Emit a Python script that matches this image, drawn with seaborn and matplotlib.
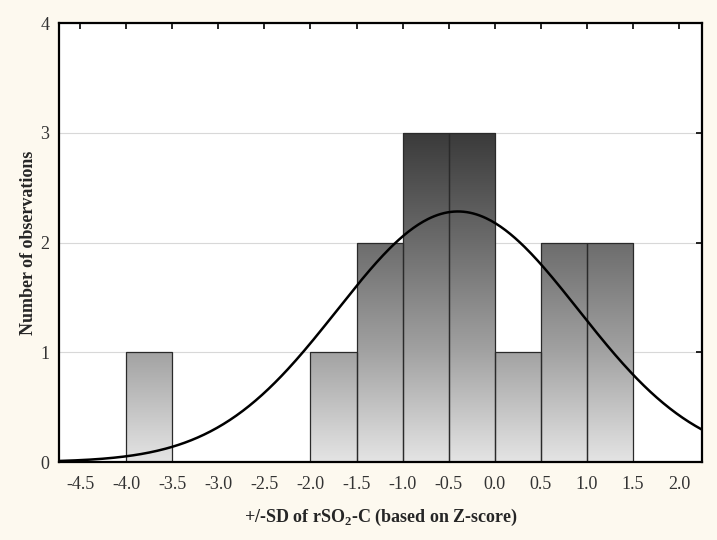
import numpy as np
import pandas as pd
import matplotlib
matplotlib.use("Agg")
import matplotlib.pyplot as plt
import seaborn as sns
from matplotlib.colors import LinearSegmentedColormap

# histogram (bin width 0.5)
bin_left = [-4.0, -3.5, -3.0, -2.5, -2.0, -1.5, -1.0, -0.5, 0.0, 0.5, 1.0]
counts = [1, 0, 0, 0, 1, 2, 3, 3, 1, 2, 2]
bin_width = 0.5
# fitted normal curve parameters (estimated)
fit_mean = -0.4
fit_sd = 1.31
n_obs = sum(counts)
x_ticks = [-4.5, -4.0, -3.5, -3.0, -2.5, -2.0, -1.5, -1.0, -0.5, 0.0, 0.5, 1.0, 1.5, 2.0]
y_ticks = [0, 1, 2, 3, 4]

sns.set_style("white")
plt.rcParams["font.family"] = ["Liberation Serif", "DejaVu Serif"]
plt.rcParams["mathtext.fontset"] = "custom"
plt.rcParams["mathtext.bf"] = "Liberation Serif:bold"
plt.rcParams["mathtext.rm"] = "Liberation Serif"

cream = "#fdf9ef"
fig = plt.figure(figsize=(7.17, 5.4), dpi=100, facecolor=cream)
ax = fig.add_axes([0.0823, 0.1444, 0.8968, 0.8126])
ax.set_facecolor("white")

df = pd.DataFrame({"x": np.array(bin_left) + bin_width / 2, "n": counts})
edges = list(bin_left) + [bin_left[-1] + bin_width]
sns.histplot(data=df, x="x", weights="n", bins=edges, ax=ax,
             color="none", edgecolor="#2a2a2a", linewidth=0.9, zorder=2)

# gradient fill clipped to each bar
cmap = LinearSegmentedColormap.from_list("g", ["#e4e4e4", "#a2a2a2", "#6c6c6c", "#3a3a3a"])
grad = np.linspace(0, 1, 256).reshape(-1, 1)
for p in ax.patches:
    if p.get_height() <= 0:
        continue
    im = ax.imshow(grad, cmap=cmap, origin="lower", aspect="auto",
                   extent=[-4.73, 2.25, 0, 3], zorder=1.5, interpolation="bilinear")
    im.set_clip_path(p)

xs = np.linspace(-4.73, 2.25, 400)
ys = n_obs * bin_width / (fit_sd * np.sqrt(2 * np.pi)) * np.exp(-0.5 * ((xs - fit_mean) / fit_sd) ** 2)
sns.lineplot(x=xs, y=ys, ax=ax, color="black", linewidth=1.8, zorder=3)

ax.set_xlim(-4.73, 2.25)
ax.set_ylim(0, 4)
ax.set_xticks(x_ticks)
ax.set_xticklabels([f"{t:.1f}" for t in x_ticks])
ax.set_yticks(y_ticks)
ax.set_yticklabels([str(t) for t in y_ticks])
ax.grid(axis="y", color="#d8d8d8", linewidth=0.8, zorder=0)
ax.set_axisbelow(True)
ax.tick_params(direction="in", length=4, width=1.2, colors="black", labelsize=13,
               top=True, right=True, labelcolor="#333333")
ax.tick_params(axis="x", pad=10)
ax.tick_params(axis="y", pad=7)
for s in ax.spines.values():
    s.set_color("black")
    s.set_linewidth(1.6)

ax.set_xlabel(r"+/-SD of rSO$_\mathbf{2}$-C (based on Z-score)", fontsize=13,
              fontweight="bold", labelpad=10)
ax.set_ylabel("Number of observations", fontsize=13, fontweight="bold", labelpad=2)

fig.savefig("out.png", dpi=100, facecolor=cream)
